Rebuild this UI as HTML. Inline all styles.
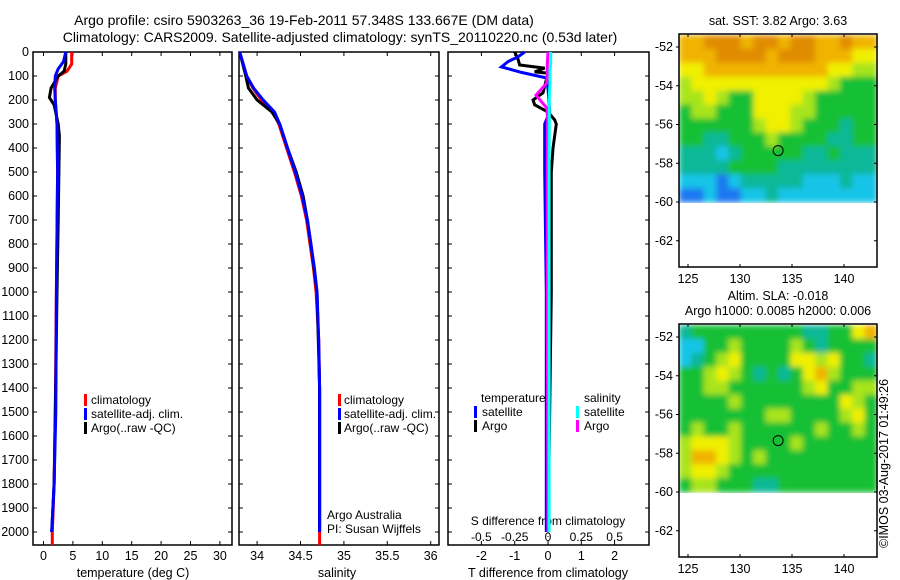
<!DOCTYPE html>
<html><head><meta charset="utf-8">
<style>
html,body{margin:0;padding:0;background:#fff;}
svg{display:block;font-family:"Liberation Sans",sans-serif;}
text{font-size:12.5px;fill:#000;}
text.leg{font-size:12px;}
</style></head>
<body>
<svg id="c" width="900" height="580" viewBox="0 0 900 580" xmlns="http://www.w3.org/2000/svg">
<defs>
<filter id="blur" x="0" y="0" width="1" height="1"><feGaussianBlur stdDeviation="3" edgeMode="duplicate"/></filter>
</defs>
<text x="304" y="25" text-anchor="middle" style="font-size:14px">Argo profile: csiro 5903263_36 19-Feb-2011 57.348S 133.667E (DM data)</text>
<text x="340" y="42" text-anchor="middle" style="font-size:14px">Climatology: CARS2009. Satellite-adjusted climatology: synTS_20110220.nc (0.53d later)</text>
<text x="778" y="25" text-anchor="middle">sat. SST: 3.82 Argo: 3.63</text>
<text x="778" y="300" text-anchor="middle">Altim. SLA: -0.018</text>
<text x="778" y="315" text-anchor="middle">Argo h1000: 0.0085 h2000: 0.006</text>
<text transform="translate(888,548) rotate(-90)">©IMOS 03-Aug-2017 01:49:26</text>
<g id="g"></g>
</svg>
<script>
// ---- data ----
const depthTicks=[0,100,200,300,400,500,600,700,800,900,1000,1100,1200,1300,1400,1500,1600,1700,1800,1900,2000];
const tempTicks=[0,5,10,15,20,25,30];
const salTicks=[34,34.5,35,35.5,36];
const salTickLabels=["34","34.5","35","35.5","36"];
const tdTicks=[-2,-1,0,1,2];
const sdTicks=[-0.5,-0.25,0,0.25,0.5];
const sdTickLabels=["-0.5","-0.25","0","0.25","0.5"];
const climTD=[0,50,80,100,150,200,300,500,1000,1500,1800,2000,2054];
const climT=[4.8,4.8,4.0,2.5,2.0,2.0,2.3,2.4,2.2,2.0,1.8,1.5,1.5];
const satTD=[0,40,70,100,150,200,300,500,1000,1500,1800,2000];
const satT=[3.8,3.4,2.5,2.0,1.9,2.0,2.3,2.4,2.2,2.1,1.8,1.4];
const argoTD=[0,50,80,100,150,190,220,300,350,700,1000,1500,1800,2000];
const argoT=[3.8,3.8,3.5,2.5,1.3,1.0,1.8,2.5,2.7,2.5,2.3,2.0,1.8,1.4];
const salD=[0,100,150,200,250,300,400,500,600,700,800,900,1000,1200,1400,2000,2054];
const climS=[33.8,33.88,33.95,34.05,34.18,34.25,34.34,34.43,34.51,34.57,34.61,34.65,34.68,34.71,34.72,34.72,34.72];
const satS=[33.8,33.88,33.96,34.07,34.2,34.26,34.35,34.44,34.52,34.58,34.62,34.66,34.69,34.71,34.72,34.72];
const argoSD=[0,100,150,200,250,300,400,500,600,700,800,1000,1400,2000];
const argoS=[33.8,33.87,33.9,34.0,34.17,34.26,34.35,34.45,34.53,34.58,34.62,34.69,34.72,34.72];
const tdD=[0,20,40,62,85,108,150,250,300,500,1000,1500,2000];
const satTdiff=[-0.7,-0.9,-1.2,-1.4,-0.8,-0.05,0.0,0.05,-0.1,-0.1,-0.05,-0.05,-0.05];
const argoTdD=[0,30,54,67,83,88,170,200,220,250,283,300,400,500,1000,1500,2000];
const argoTdiff=[-1.0,-0.9,-0.85,-0.1,-0.4,0.0,-0.15,-0.45,-0.4,0.0,0.2,0.25,0.15,0.1,0.1,0.05,0.0];
const sdD=[0,50,75,130,180,233,275,500,1000,2000];
const argoSdiff=[0.0,-0.005,-0.005,-0.01,-0.09,-0.01,-0.003,-0.005,-0.005,0.0];
const satSdiff=[0.02,0.02,0.015,0.015,0.01,0.01,0.01,0.008,0.008,0.008];
const latTicks=[-52,-54,-56,-58,-60,-62];
const lonTicks=[125,130,135,140];
const sstGrid=[
[6,6,7,7,7,6,7,7,6,7,7,6,6,7,6,6],
[6,6,6,7,7,7,7,6,7,7,7,6,6,6,5,5],
[5,5,6,6,6,6,6,6,6,6,6,6,5,5,4,4],
[4,5,5,5,5,5,5,5,5,5,5,5,4,3,3,3],
[4,4,5,4,3,3,5,5,5,5,4,3,3,3,3,3],
[3,4,4,3,3,3,5,5,5,4,4,3,3,3,3,3],
[3,3,3,3,3,3,4,5,5,4,3,3,3,2,3,3],
[3,3,2,2,3,3,3,4,3,3,3,3,2,2,3,3],
[2,2,2,1,2,3,3,3,3,3,2,2,3,2,2,2],
[2,2,2,2,3,3,3,3,2,2,2,2,2,2,2,2],
[1,1,1,0,1,2,2,2,2,2,1,1,1,2,1,1],
[0,0,1,0,0,1,1,2,1,1,1,1,1,1,1,1]];
const slaGrid=[
[2,3,3,3,3,3,3,3,3,3,2,2,3,3,5,6],
[1,1,3,3,4,3,3,3,3,4,3,2,3,3,3,3],
[1,2,3,4,5,3,3,3,3,5,5,4,5,3,3,2],
[3,3,4,5,4,3,2,3,2,3,5,6,4,3,3,3],
[3,3,4,4,3,3,3,3,3,3,4,5,3,3,4,4],
[3,3,3,3,4,3,3,3,3,3,3,3,3,5,4,3],
[3,3,3,3,3,3,3,4,4,3,3,3,3,4,5,3],
[3,4,3,3,4,3,3,3,3,3,3,4,3,3,4,3],
[4,5,5,5,4,3,3,3,3,4,3,3,3,3,3,3],
[4,6,6,5,4,3,4,3,3,3,3,3,3,3,3,3],
[4,5,5,4,3,3,3,3,3,3,3,3,3,3,3,3],
[3,4,4,3,3,3,2,2,3,3,3,3,3,3,3,3]];
const floatLon=133.667, floatLat=-57.348;
const cmap=["#1c78f0","#18c4e8","#10b898","#14c034","#a8e41c","#f0f000","#f0b400","#e08c00"];

// ---- helpers ----
const NS="http://www.w3.org/2000/svg";
const G=document.getElementById('g');
function mk(tag,attrs,parent){const e=document.createElementNS(NS,tag);for(const k in attrs)e.setAttribute(k,attrs[k]);(parent||G).appendChild(e);return e;}
const Y0=52,Y1=545;
const yD=d=>Y0+d*0.24;
const xT=t=>43.5+t*5.88;
const xS=s=>300.5+(s-34.5)*86.8;
const xTd=v=>548+v*33.3;
const xSd=v=>548+v*133.2;

function frame(x0,x1,name){
  const r=mk('rect',{x:x0,y:Y0,width:x1-x0,height:Y1-Y0,fill:'none',stroke:'#000','stroke-width':1.5});
  
  
  depthTicks.forEach(d=>{
    mk('line',{x1:x0,x2:x0+4,y1:yD(d),y2:yD(d),stroke:'#000'});
    mk('line',{x1:x1,x2:x1-4,y1:yD(d),y2:yD(d),stroke:'#000'});
  });
}
function line(ds,vs,fx,color,name,w){
  let p=ds.map((d,i)=>fx(vs[i]).toFixed(1)+','+yD(d).toFixed(1)).join(' ');
  const e=mk('polyline',{points:p,fill:'none',stroke:color,'stroke-width':w||3});
  
  
}
function txt(x,y,s,anchor,name,cls){const e=mk('text',{x:x,y:y,'text-anchor':anchor||'start'});e.textContent=s;
  if(cls)e.setAttribute('class',cls);
  
  return e;}
function legBar(x,y,color,name){const e=mk('rect',{x:x,y:y-10,width:3,height:12,fill:color});
  
  }

// panel 1 temperature
frame(33,232,'temperature-panel');
depthTicks.forEach(d=>txt(29,yD(d)+4,String(d),'end','depth-tick-label'));
tempTicks.forEach(t=>{mk('line',{x1:xT(t),x2:xT(t),y1:Y1,y2:Y1-4,stroke:'#000'});mk('line',{x1:xT(t),x2:xT(t),y1:Y0,y2:Y0+4,stroke:'#000'});txt(xT(t),560,String(t),'middle','temp-tick-label');});
txt(133,577,'temperature (deg C)','middle','temp-axis-title');
line(climTD,climT,xT,'#ff0000','temp-climatology-line');
line(argoTD,argoT,xT,'#000000','temp-argo-line');
line(satTD,satT,xT,'#0000ff','temp-satellite-line');
legBar(84,404,'#ff0000','legend-climatology-swatch');txt(91,404,'climatology','start','legend-climatology','leg');
legBar(84,418,'#0000ff','legend-satellite-swatch');txt(91,418,'satellite-adj. clim.','start','legend-satellite','leg');
legBar(84,432,'#000000','legend-argo-swatch');txt(91,432,'Argo(..raw -QC)','start','legend-argo','leg');

// panel 2 salinity
frame(239,439,'salinity-panel');
salTicks.forEach((s,i)=>{mk('line',{x1:xS(s),x2:xS(s),y1:Y1,y2:Y1-4,stroke:'#000'});mk('line',{x1:xS(s),x2:xS(s),y1:Y0,y2:Y0+4,stroke:'#000'});txt(xS(s),560,salTickLabels[i],'middle','sal-tick-label');});
txt(337,577,'salinity','middle','sal-axis-title');
line(salD,climS,xS,'#ff0000','sal-climatology-line');
line(argoSD,argoS,xS,'#000000','sal-argo-line');
line(salD.slice(0,satS.length),satS,xS,'#0000ff','sal-satellite-line');
legBar(338,404,'#ff0000','legend2-climatology-swatch');txt(344,404,'climatology','start','legend2-climatology','leg');
legBar(338,418,'#0000ff','legend2-satellite-swatch');txt(344,418,'satellite-adj. clim.','start','legend2-satellite','leg');
legBar(338,432,'#000000','legend2-argo-swatch');txt(344,432,'Argo(..raw -QC)','start','legend2-argo','leg');
txt(327,519,'Argo Australia','start','credit-line-1','leg');
txt(327,533,'PI: Susan Wijffels','start','credit-line-2','leg');

// panel 3 differences
frame(448,649,'difference-panel');
tdTicks.forEach(t=>{mk('line',{x1:xTd(t),x2:xTd(t),y1:Y1,y2:Y1-4,stroke:'#000'});mk('line',{x1:xTd(t),x2:xTd(t),y1:Y0,y2:Y0+4,stroke:'#000'});txt(xTd(t),560,String(t),'middle','tdiff-tick-label');});
sdTicks.forEach((s,i)=>txt(xSd(s),541,sdTickLabels[i],'middle','sdiff-tick-label','leg'));
txt(548,525,'S difference from climatology','middle','sdiff-axis-title','leg');
txt(548,577,'T difference from climatology','middle','tdiff-axis-title');
mk('line',{x1:548,x2:548,y1:Y0,y2:Y1,stroke:'#000','stroke-dasharray':'1,3'});
line(argoTdD,argoTdiff,xTd,'#000000','tdiff-argo-line');
line(tdD,satTdiff,xTd,'#0000ff','tdiff-satellite-line');
line(sdD,argoSdiff,xSd,'#ff00ff','sdiff-argo-line');
line(sdD,satSdiff,xSd,'#00ffff','sdiff-satellite-line');
txt(481,402,'temperature','start','legend3-temperature-heading','leg');
legBar(474,416,'#0000ff','legend3-tsat-swatch');txt(482,416,'satellite','start','legend3-tsat','leg');
legBar(474,430,'#000000','legend3-targo-swatch');txt(482,430,'Argo','start','legend3-targo','leg');
txt(584,402,'salinity','start','legend3-salinity-heading','leg');
legBar(576,416,'#00ffff','legend3-ssat-swatch');txt(584,416,'satellite','start','legend3-ssat','leg');
legBar(576,430,'#ff00ff','legend3-sargo-swatch');txt(584,430,'Argo','start','legend3-sargo','leg');

// maps
function map(top,bottom,lat52y,lat60y,grid,name){
  const L=679,R=877;
  const lx=lon=>688+(lon-125)*10.4;
  const ly=lat=>lat52y+(-52-lat)*(lat60y-lat52y)/8;
  const gTop=top+1, gBot=ly(-60);
  const rows=grid.length, cols=grid[0].length;
  const cw=(R-L)/cols, ch=(gBot-gTop)/rows;
  const cg=mk('g',{filter:'url(#blur)'});
  
  
  grid.forEach((row,r)=>row.forEach((v,c)=>{
    const e=mk('rect',{x:(L+c*cw).toFixed(2),y:(gTop+r*ch).toFixed(2),width:(cw+0.6).toFixed(2),height:(ch+0.6).toFixed(2),fill:cmap[v]},cg);
    
    
  }));
  const f=mk('rect',{x:L,y:top,width:R-L,height:bottom-top,fill:'none',stroke:'#000','stroke-width':1.5});
  
  
  latTicks.forEach(t=>{const y=ly(t);mk('line',{x1:L,x2:L-3,y1:y,y2:y,stroke:'#000'});mk('line',{x1:R,x2:R-3,y1:y,y2:y,stroke:'#000'});txt(673,y+4,String(t),'end',name+'-lat-label');});
  lonTicks.forEach(t=>{const x=lx(t);mk('line',{x1:x,x2:x,y1:bottom,y2:bottom-3,stroke:'#000'});mk('line',{x1:x,x2:x,y1:top,y2:top+3,stroke:'#000'});txt(x,bottom+16,String(t),'middle',name+'-lon-label');});
  const c=mk('circle',{cx:lx(floatLon),cy:ly(floatLat),r:5,fill:'none',stroke:'#000'});
  
  
}
map(34,267,47,202,sstGrid,'sst-map');
map(324,557,337,492,slaGrid,'sla-map');
</script>
</body></html>
